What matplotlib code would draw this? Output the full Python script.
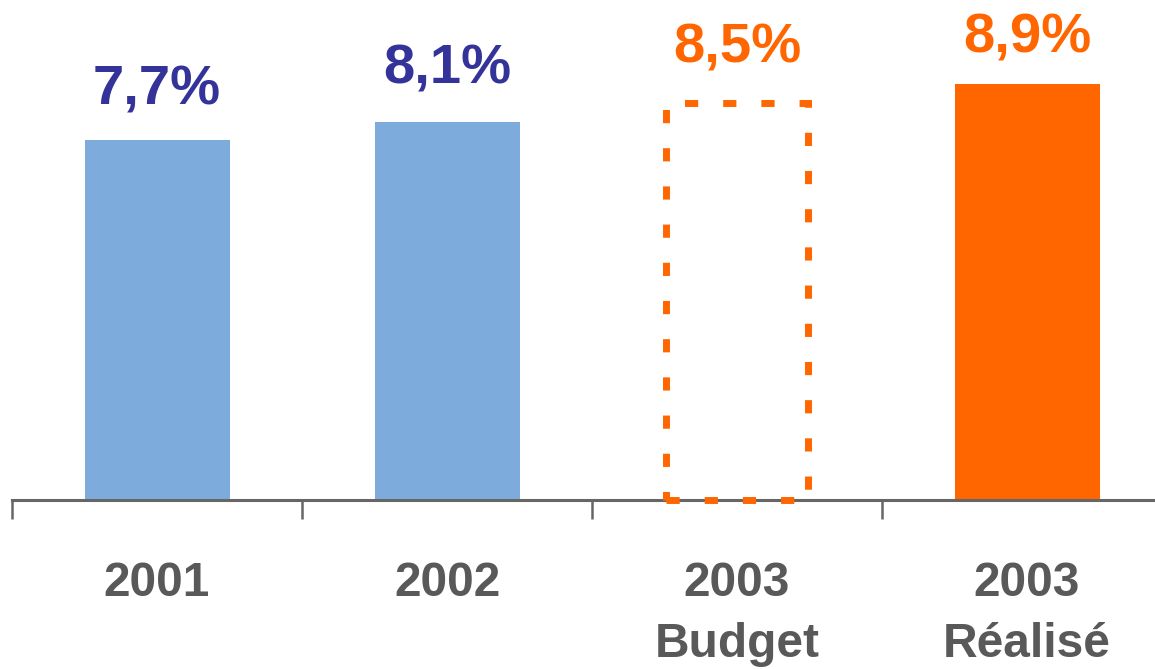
import matplotlib
matplotlib.use('Agg')
import matplotlib.pyplot as plt

plt.rcParams['font.family'] = ['Liberation Sans', 'DejaVu Sans']

categories = ['2001', '2002', '2003\nBudget', '2003\nRéalisé']
values = [7.7, 8.1, 8.5, 8.9]
value_labels = ['7,7%', '8,1%', '8,5%', '8,9%']

BLUE = '#7DABDC'
DARK_BLUE = '#333399'
ORANGE = '#FF6600'
GRAY = '#666666'

fig = plt.figure(figsize=(11.55, 6.69), dpi=100)
ax = fig.add_axes([12 / 1155, 169 / 669, 1 - 12 / 1155, 500 / 669])

x = list(range(len(categories)))
bar_colors = [BLUE, BLUE, 'none', ORANGE]
text_colors = [DARK_BLUE, DARK_BLUE, ORANGE, ORANGE]
label_gap = [26, 27.5, 29, 23]  # points above bar top

for i, (v, c) in enumerate(zip(values, bar_colors)):
    if i == 2:
        # budget bar: dashed outline only
        ax.bar(i, v, width=0.49, fill=False, edgecolor=ORANGE, linewidth=5,
               linestyle=(0, (1.9, 3.6)), zorder=3, clip_on=False)
    else:
        ax.bar(i, v, width=0.5, color=c, linewidth=0, zorder=2)

for i, (v, lab, tc) in enumerate(zip(values, value_labels, text_colors)):
    ax.annotate(lab, (i, v), xytext=(0, label_gap[i]), textcoords='offset points',
                ha='center', va='baseline', fontsize=40.5, fontweight='bold',
                color=tc)

ax.set_xlim(-0.5, (1155 - 157) / 290)
ax.set_ylim(0, 500 / 46.7)

for side in ['top', 'right', 'left']:
    ax.spines[side].set_visible(False)
ax.spines['bottom'].set_color(GRAY)
ax.spines['bottom'].set_linewidth(2.2)
ax.set_yticks([])

ax.set_xticks(x)
ax.set_xticklabels(categories, fontsize=34.5, fontweight='bold', color='#595959',
                   linespacing=1.44, va='top')
ax.tick_params(axis='x', which='major', length=0, pad=44)
ax.set_xticks([-0.5, 0.5, 1.5, 2.5], minor=True)
ax.tick_params(axis='x', which='minor', length=13.5, width=1.8, color=GRAY,
               direction='out')

fig.savefig('out.png', dpi=100)
